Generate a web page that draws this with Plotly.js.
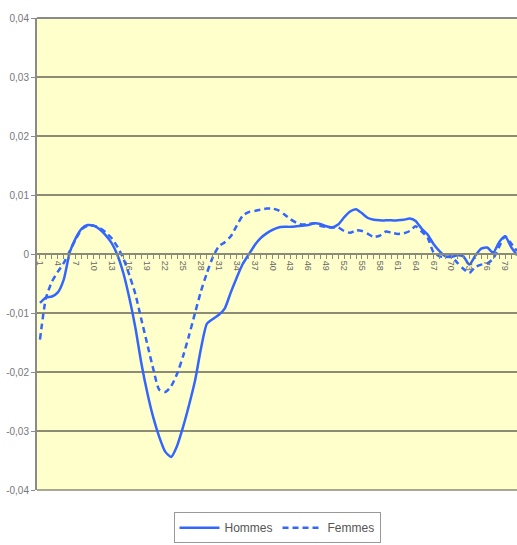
<!DOCTYPE html>
<html>
<head>
<meta charset="utf-8">
<script src="https://cdn.plot.ly/plotly-3.0.1.min.js"></script>
<style>html,body{margin:0;padding:0;background:#fff;overflow:hidden;}#chart{width:517px;height:545px;}</style>
</head>
<body>
<div id="chart"></div>
<script>
const ages = [];
for (let a = 1; a <= 81; a++) ages.push(a);

const hommes = [-0.0083,-0.0074,-0.0072,-0.0065,-0.0043,0.0003,0.0027,0.0043,0.0049,0.0048,
 0.0042,0.0032,0.0019,-0.0002,-0.0033,-0.0075,-0.0125,-0.0185,-0.0235,-0.0277,
 -0.0310,-0.0335,-0.0344,-0.0325,-0.0293,-0.0256,-0.0215,-0.0160,-0.0118,-0.0110,
 -0.0103,-0.0092,-0.0065,-0.0040,-0.0017,-0.0001,0.0015,0.0027,0.0035,0.0041,
 0.0045,0.0046,0.0046,0.0047,0.0048,0.0049,0.0052,0.0051,0.0047,0.0045,
 0.0050,0.0062,0.0072,0.0076,0.0069,0.0061,0.0058,0.0057,0.0057,0.0057,
 0.0057,0.0058,0.0060,0.0056,0.0043,0.0033,0.0017,0.0005,-0.0004,-0.0005,
 -0.0002,-0.0004,-0.0018,-0.0003,0.0009,0.0011,0.0002,0.0020,0.0030,0.0012,-0.0002];

const femmes = [-0.0145,-0.0075,-0.0047,-0.0030,-0.0015,0.0005,0.0025,0.0042,0.0048,0.0048,
 0.0044,0.0037,0.0027,0.0012,-0.0008,-0.0036,-0.0068,-0.0111,-0.0153,-0.0195,
 -0.0230,-0.0234,-0.0224,-0.0203,-0.0173,-0.0138,-0.0100,-0.0063,-0.0032,-0.0005,
 0.0013,0.0020,0.0030,0.0048,0.0065,0.0071,0.0073,0.0075,0.0077,0.0077,
 0.0074,0.0067,0.0059,0.0053,0.0050,0.0051,0.0052,0.0048,0.0046,0.0045,
 0.0045,0.0039,0.0036,0.0040,0.0039,0.0034,0.0029,0.0031,0.0038,0.0036,
 0.0034,0.0035,0.0039,0.0047,0.0038,0.0028,0.0003,-0.0004,-0.0005,-0.0004,
 -0.0015,-0.0025,-0.0032,-0.0022,-0.0018,-0.0016,-0.0008,0.0012,0.0030,0.0018,0.0005];

const yTickVals = [-0.04,-0.03,-0.02,-0.01,0,0.01,0.02,0.03,0.04];
const yTickText = ['-0,04','-0,03','-0,02','-0,01','0','0,01','0,02','0,03','0,04'];

const xTickVals = [];
for (let a = 1; a <= 81; a += 3) xTickVals.push(a);

const FONT = 'Liberation Sans Narrow, Arial Narrow, Liberation Sans, sans-serif';
const BLUE = '#3366ff';

const traces = [
  {x: ages, y: hommes, name: 'Hommes', type: 'scatter', mode: 'lines',
   line: {color: BLUE, width: 2.5, shape: 'spline', smoothing: 0.6}},
  {x: ages, y: femmes, name: 'Femmes', type: 'scatter', mode: 'lines',
   line: {color: BLUE, width: 2.5, dash: '6px,4px', shape: 'spline', smoothing: 0.6}}
];

const layout = {
  width: 517, height: 545,
  margin: {l: 37, r: 0, t: 18, b: 55},
  paper_bgcolor: '#ffffff',
  plot_bgcolor: '#ffffcc',
  showlegend: true,
  font: {family: FONT, color: '#777777', size: 10},
  xaxis: {
    range: [0.5, 81], anchor: 'free', position: 0.5,
    showgrid: false, zeroline: false,
    showline: true, linecolor: '#8a8a78', linewidth: 2,
    tickmode: 'array', tickvals: xTickVals, ticktext: xTickVals.map(String),
    tickangle: 90, ticks: 'outside', ticklen: 4, tickcolor: '#8a8a78',
    tickfont: {family: FONT, size: 9, color: '#666666'},
    minor: {dtick: 1, tick0: 1, ticks: 'outside', ticklen: 4, tickcolor: '#8a8a78', showgrid: false}
  },
  yaxis: {
    range: [-0.04, 0.04],
    tickmode: 'array', tickvals: yTickVals, ticktext: yTickText,
    showgrid: true, gridcolor: '#8c8c74', gridwidth: 1.5,
    zeroline: false,
    showline: true, linecolor: '#8a8a8a', linewidth: 2,
    ticks: 'outside', ticklen: 4, tickcolor: '#8a8a8a',
    tickfont: {family: FONT, size: 10, color: '#777777'}
  },
  shapes: [
    {type: 'line', xref: 'paper', yref: 'paper', x0: 0, x1: 1, y0: 1, y1: 1,
     line: {color: '#8a8a8a', width: 2}},
    {type: 'line', xref: 'paper', yref: 'paper', x0: 0, x1: 1, y0: 0, y1: 0,
     line: {color: '#8c8c74', width: 1.5}}
  ],
  legend: {
    orientation: 'h', x: 0.5, xanchor: 'center', y: -0.047, yanchor: 'top',
    bordercolor: '#999999', borderwidth: 1, bgcolor: '#ffffff',
    font: {family: FONT, size: 12, color: '#555555'},
    itemwidth: 40, tracegroupgap: 0,
    valign: 'middle'
  }
};

Plotly.newPlot('chart', traces, layout, {displayModeBar: false, staticPlot: true});
</script>
</body>
</html>
